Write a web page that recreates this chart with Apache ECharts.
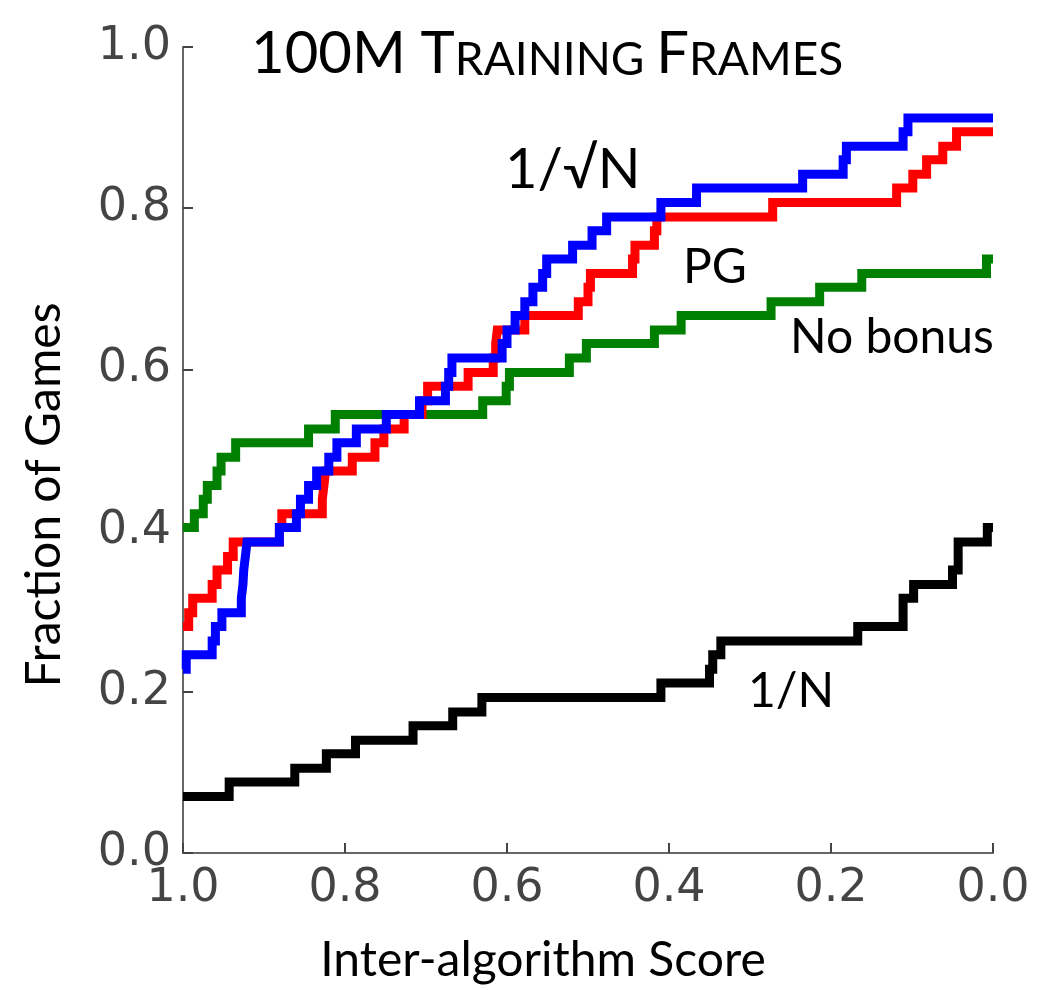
<!DOCTYPE html>
<html>
<head>
<meta charset="utf-8">
<script src="https://cdn.jsdelivr.net/npm/echarts@6/dist/echarts.min.js"></script>
<style>
  html, body { margin: 0; padding: 0; background: #fff; }
  #chart { width: 1046px; height: 990px; }
</style>
</head>
<body>
<div id="chart"></div>
<script>
// [inter-algorithm score, fraction of games] - value holds from that score to the next one
let noBonus = [
    [1.000, 0.404], [0.986, 0.421], [0.975, 0.439], [0.970, 0.456], [0.958, 0.474],
    [0.953, 0.491], [0.935, 0.509], [0.845, 0.526], [0.812, 0.544], [0.630, 0.561],
    [0.601, 0.579], [0.597, 0.596], [0.523, 0.614], [0.502, 0.632], [0.418, 0.649],
    [0.385, 0.667], [0.274, 0.684], [0.214, 0.702], [0.162, 0.719], [0.008, 0.737],
    [0.000, 0.737]
];
let pg = [
    [1.000, 0.281], [0.993, 0.298], [0.988, 0.316], [0.964, 0.333], [0.958, 0.351],
    [0.945, 0.368], [0.938, 0.386], [0.881, 0.404], [0.878, 0.421], [0.828, 0.439],
    [0.826, 0.456], [0.824, 0.474], [0.791, 0.491], [0.763, 0.509], [0.752, 0.526],
    [0.727, 0.544], [0.705, 0.561], [0.698, 0.579], [0.648, 0.596], [0.617, 0.614],
    [0.614, 0.632], [0.612, 0.649], [0.578, 0.667], [0.512, 0.684], [0.500, 0.702],
    [0.497, 0.719], [0.445, 0.737], [0.442, 0.754], [0.418, 0.772], [0.415, 0.789],
    [0.272, 0.807], [0.119, 0.825], [0.099, 0.842], [0.082, 0.860], [0.062, 0.877],
    [0.045, 0.895], [0.000, 0.895]
];
let invSqrtN = [
    [1.000, 0.228], [0.996, 0.246], [0.964, 0.263], [0.960, 0.281], [0.952, 0.298],
    [0.928, 0.316], [0.926, 0.333], [0.925, 0.351], [0.923, 0.368], [0.921, 0.386],
    [0.881, 0.404], [0.860, 0.421], [0.855, 0.439], [0.845, 0.456], [0.835, 0.474],
    [0.820, 0.491], [0.810, 0.509], [0.786, 0.526], [0.749, 0.544], [0.708, 0.561],
    [0.676, 0.579], [0.672, 0.596], [0.668, 0.614], [0.606, 0.632], [0.600, 0.649],
    [0.590, 0.667], [0.578, 0.684], [0.568, 0.702], [0.556, 0.719], [0.551, 0.737],
    [0.519, 0.754], [0.495, 0.772], [0.477, 0.789], [0.410, 0.807], [0.366, 0.825],
    [0.235, 0.842], [0.185, 0.860], [0.181, 0.877], [0.111, 0.895], [0.105, 0.912],
    [0.000, 0.912]
];
let invN = [
    [1.000, 0.070], [0.943, 0.088], [0.862, 0.105], [0.823, 0.123], [0.787, 0.140],
    [0.716, 0.158], [0.667, 0.175], [0.631, 0.193], [0.410, 0.211], [0.350, 0.228],
    [0.346, 0.246], [0.336, 0.263], [0.167, 0.281], [0.111, 0.316], [0.098, 0.333],
    [0.050, 0.351], [0.043, 0.386], [0.007, 0.404], [0.000, 0.404]
];

let curveLabels = [
    { text: "1/√N", x: 505, y: 142, size: 56 },
    { text: "PG", x: 683, y: 244, size: 48 },
    { text: "No bonus", x: 790, y: 314, size: 48 },
    { text: "1/N", x: 748, y: 668, size: 48 }
];

let labelFont = "Lato, 'Open Sans', sans-serif";

function stepSeries(name, data, color) {
    return {
        name: name,
        type: "line",
        step: "end",
        data: data,
        symbol: "none",
        silent: true,
        lineStyle: { color: color, width: 9, join: "miter" }
    };
}

let chart = echarts.init(document.getElementById("chart"), null, { renderer: "canvas" });
chart.setOption({
    animation: false,
    backgroundColor: "#fff",
    title: {
        text: "{b|100M T}{s|RAINING }{b|F}{s|RAMES}",
        left: 246,
        top: 20,
        textStyle: {
            rich: {
                b: { fontFamily: labelFont, fontSize: 58, fontWeight: "normal", color: "#000", verticalAlign: "bottom" },
                s: { fontFamily: labelFont, fontSize: 46, fontWeight: "normal", color: "#000", verticalAlign: "bottom" }
            }
        }
    },
    grid: { left: 183, right: 53, top: 47, bottom: 135 },
    xAxis: {
        type: "value",
        inverse: true,
        min: 0,
        max: 1,
        interval: 0.2,
        name: "Inter-algorithm Score",
        nameLocation: "middle",
        nameGap: 84,
        nameTextStyle: { fontFamily: labelFont, fontSize: 48, color: "#000", padding: [0, 90, 0, 0] },
        axisLine: { onZero: false, lineStyle: { color: "#666", width: 2 } },
        axisTick: { inside: true, length: 10, lineStyle: { color: "#444", width: 2 } },
        axisLabel: {
            margin: 13,
            fontFamily: "DejaVu Sans",
            fontSize: 46,
            color: "#444",
            formatter: v => v.toFixed(1)
        },
        splitLine: { show: false }
    },
    yAxis: {
        type: "value",
        position: "left",
        min: 0,
        max: 1,
        interval: 0.2,
        name: "Fraction of Games",
        nameLocation: "middle",
        nameRotate: 90,
        nameGap: 114,
        nameTextStyle: { fontFamily: labelFont, fontSize: 48, color: "#000", padding: [0, 90, 0, 0] },
        axisLine: { show: true, onZero: false, lineStyle: { color: "#666", width: 2 } },
        axisTick: { show: true, inside: true, length: 10, lineStyle: { color: "#444", width: 2 } },
        axisLabel: {
            margin: 12,
            fontFamily: "DejaVu Sans",
            fontSize: 46,
            color: "#444",
            formatter: v => v.toFixed(1)
        },
        splitLine: { show: false }
    },
    series: [
        stepSeries("1/N", invN, "#000000"),
        stepSeries("No bonus", noBonus, "#008000"),
        stepSeries("PG", pg, "#ff0000"),
        stepSeries("1/√N", invSqrtN, "#0000ff")
    ],
    graphic: curveLabels.map(l => ({
        type: "text",
        left: l.x,
        top: l.y,
        style: { text: l.text, fontFamily: labelFont, fontSize: l.size, fill: "#000" }
    }))
});
</script>
</body>
</html>
